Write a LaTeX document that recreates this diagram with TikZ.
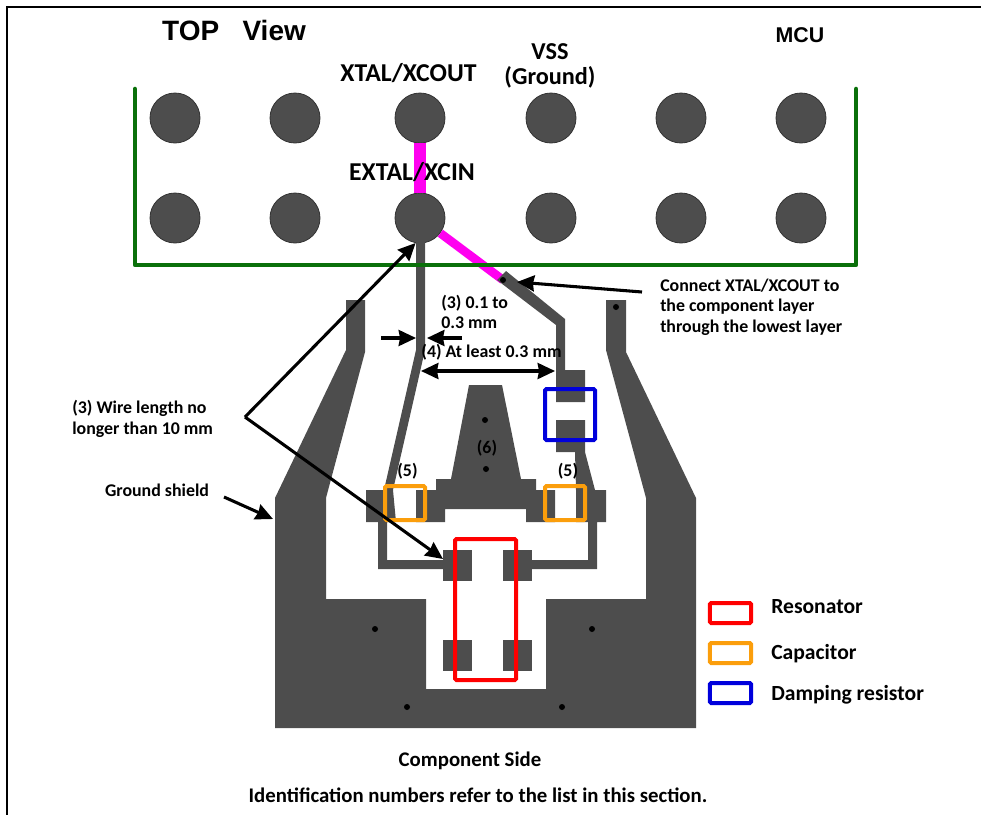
\documentclass[tikz,border=0pt]{standalone}
\usepackage{fontspec}
\setmainfont{Carlito}
\newfontfamily\arialfont{Liberation Sans}
\usetikzlibrary{positioning, arrows.meta}
\definecolor{copper}{HTML}{4D4D4D}
\definecolor{greenline}{HTML}{0A700A}
\definecolor{orangebox}{HTML}{FB9E0C}
\definecolor{magentaline}{HTML}{FF00F0}
\definecolor{bluebox}{HTML}{0000DC}
\tikzset{
        x=0.75pt, y=-0.75pt,
        node distance=12pt,
        copperfill/.style={fill=copper, draw=none},
        padcircle/.style={circle, fill=copper, draw=black!80, line width=0.6pt, minimum size=37.5pt, inner sep=0pt},
        padrect/.style={rectangle, copperfill, minimum width=22pt, minimum height=23.5pt, inner sep=0pt},
        via/.style={circle, fill=black, minimum size=4.5pt, inner sep=0pt},
        label/.style={font=\bfseries\fontsize{13.4}{15.4}\selectfont, inner sep=0pt, align=left},
        biglabel/.style={font=\bfseries\fontsize{15.6}{18}\selectfont, inner sep=0pt},
        legendlabel/.style={font=\bfseries\fontsize{16.2}{18}\selectfont, inner sep=0pt, anchor=west},
        pinlabel/.style={font=\bfseries\fontsize{19.3}{19}\selectfont, inner sep=0pt, align=center},
        legendbox/.style={rectangle, draw, line width=3pt, rounded corners=1pt, minimum width=31pt, minimum height=15pt, inner sep=0pt},
        blackarrow/.style={draw=black, line width=2.3pt, -{Stealth[length=13pt, width=12pt, inset=1pt]}},
        blackboth/.style={draw=black, line width=2.3pt, {Stealth[length=13pt, width=12pt, inset=1pt]}-{Stealth[length=13pt, width=12pt, inset=1pt]}},
        bigbox/.style={draw, line width=3pt, rounded corners=1pt}
        }
\begin{document}
\begin{tikzpicture}
        \useasboundingbox (0,0) rectangle (981,814);
        \draw[black, line width=1.5pt] (7,818) -- (7,7) -- (985,7);

        % ground shield
        \fill[copperfill] (346,300) -- (365,300) -- (365,352) -- (326,498) -- (326,599) -- (426,599) -- (426,689)
              -- (546,689) -- (546,599) -- (646,599) -- (646,498) -- (606,350) -- (606,300) -- (626,300) -- (626,352)
              -- (696,498) -- (696,728) -- (275,728) -- (275,498) -- (346,350) -- cycle;
        % ground under the crystal
        \fill[copperfill] (469,385) -- (502,385) -- (521,479) -- (536,479) -- (536,490) -- (555,490) -- (555,522)
              -- (526,522) -- (526,509) -- (445,509) -- (445,522) -- (416,522) -- (416,490) -- (436,490) -- (436,479)
              -- (451,479) -- cycle;
        % magenta and traces
        \foreach \n/\x in {a/175,b/295,c/420,d/551,e/681,f/801}{
          \node[padcircle] (t\n) at (\x,118) {};
          \node[padcircle] (u\n) at (\x,218) {};
        }
        \node[via] (v0) at (503,280) {};
        \draw[magentaline, line width=8.5pt] (tc) -- (uc);
        \draw[magentaline, line width=6.5pt] (uc) -- (v0.center);
        \fill[copperfill] (416,242) -- (425,242) -- (425,350) -- (393,490) -- (396,522) -- (387,522) -- (387,560)
              -- (443,560) -- (443,569) -- (378,569) -- (378,522) -- (366,522) -- (366,490) -- (384,490) -- (416,350) -- cycle;
        \fill[copperfill] (497,280) -- (506,271) -- (565,319) -- (565,370) -- (585,370) -- (585,402) -- (556,402)
              -- (556,325) -- cycle;
        \fill[copperfill] (556,420) -- (585,420) -- (585,452) -- (595,490) -- (606,490) -- (606,522) -- (597,522)
              -- (597,569) -- (532,569) -- (532,560) -- (588,560) -- (588,522) -- (576,522) -- (576,490) -- (575,452)
              -- (556,452) -- cycle;
        \node[padrect] (rtl) at (457.5,565.5) {};
        \node[padrect] (rtr) at (517.5,565.5) {};
        \node[padrect] (rbl) at (457.5,655.5) {};
        \node[padrect] (rbr) at (517.5,655.5) {};

        \node[via] at (503,280) {};
        \foreach \x/\y in {616/307,485/420,486/469,375/629,592/629,407/707,562/707}
          \node[via] at (\x,\y) {};

        \draw[greenline, line width=3.4pt, line join=round, line cap=round] (135,89) -- (135,265) -- (856,265) -- (856,89);

        % boxes
        \draw[bigbox, red] (455,539) rectangle (516,680);
        \draw[bigbox, orangebox] (385,486) rectangle (425,520);
        \draw[bigbox, orangebox] (545,486) rectangle (585,520);
        \draw[bigbox, bluebox] (545,389) rectangle (595,440);

        % texts
        \node[font=\arialfont\bfseries\fontsize{21}{24}\selectfont, inner sep=0pt] (title) at (234,30) {TOP~~~View};
        \node[font=\arialfont\bfseries\fontsize{16}{19}\selectfont, inner sep=0pt] (mcu) at (800,35) {MCU};
        \node[pinlabel] (xout) at (408.5,73) {XTAL/XCOUT};
        \node[pinlabel] (xin) at (412,172) {EXTAL/XCIN};
        \node[pinlabel, font=\bfseries\fontsize{18.2}{19}\selectfont] (vss) at (550,66) {VSS\\(Ground)};
        \node[label, anchor=west] (tconn) at (660,307) {Connect XTAL/XCOUT to\\the component layer\\through the lowest layer};
        \node[label, anchor=west] (twidth) at (441,312) {(3) 0.1 to\\0.3 mm};
        \node[label] (tgap) at (491.5,352) {(4) At least 0.3 mm};
        \node[label, anchor=west] (twire) at (72,419) {(3) Wire length no\\longer than 10 mm};
        \node[label] (tshield) at (157,490) {Ground shield};
        \node[label] (tsix) at (487,448) {(6)};
        \node[label] (tfl) at (407.5,471) {(5)};
        \node[label] (tfr) at (568,471) {(5)};
        \node[biglabel] (tside) at (470,761) {Component Side};
        \node[biglabel] (tid) at (478,795) {Identification numbers refer to the list in this section.};

        % legend
        \node[legendbox, draw=red] (lres) at (730.5,613) {};
        \node[legendbox, draw=orangebox, below=of lres] (lcap) {};
        \node[legendbox, draw=bluebox, below=of lcap] (ldmp) {};
        \node[legendlabel] at (771,607) {Resonator};
        \node[legendlabel] at (771,654) {Capacitor};
        \node[legendlabel] at (771,695) {Damping resistor};

        % arrows
        \coordinate (wb) at (245,417);
        \coordinate (wa) at (381,338);
        \coordinate (wc) at (416,338);
        \coordinate (wd) at (462,338);
        \coordinate (we) at (427,338);
        \coordinate (ga) at (421,371);
        \coordinate (gb) at (555,371);
        \coordinate (ca) at (642,292);
        \coordinate (cb) at (517,282);
        \coordinate (sa) at (224,497);
        \coordinate (sb) at (273,519);
        \coordinate (rp) at (443,559);
        \draw[blackarrow] (wb) -- (uc.-100);
        \draw[blackarrow] (wb) -- (rp);
        \draw[blackarrow] (wa) -- (wc);
        \draw[blackarrow] (wd) -- (we);
        \draw[blackboth] (ga) -- (gb);
        \draw[blackarrow] (ca) -- (cb);
        \draw[blackarrow] (sa) -- (sb);
\end{tikzpicture}
\end{document}
